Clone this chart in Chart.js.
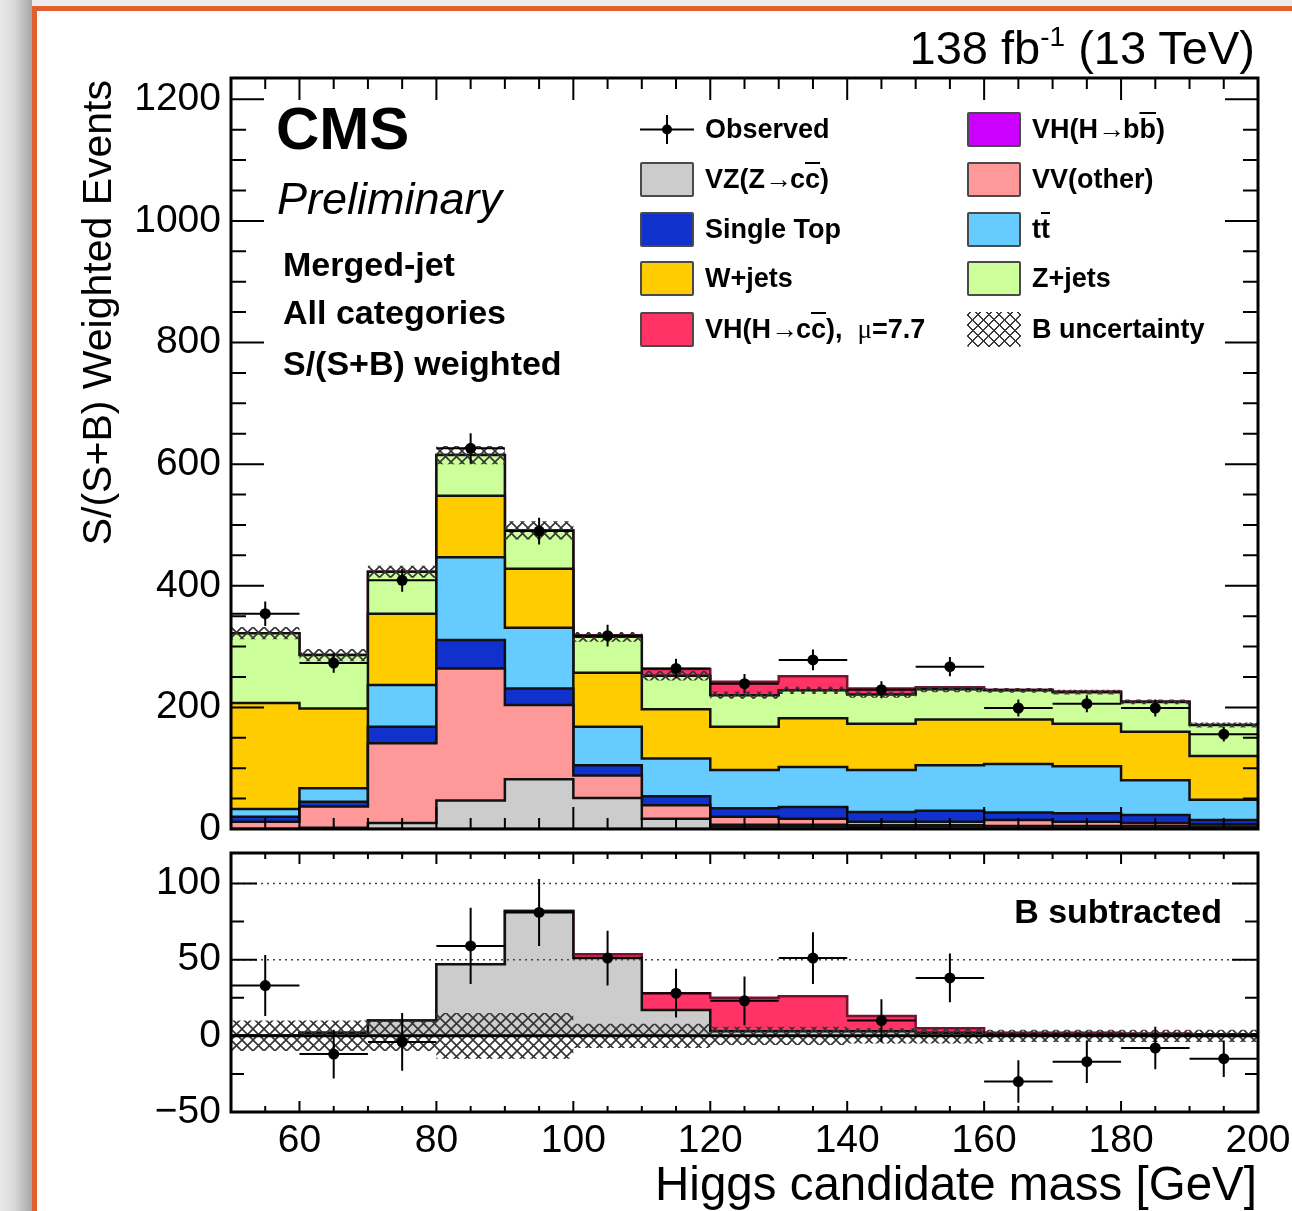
<!DOCTYPE html>
<html lang="en">
<head>
<meta charset="UTF-8">
<title>Higgs candidate mass - merged-jet, S/(S+B) weighted</title>
<script src="https://cdn.jsdelivr.net/npm/chart.js@4.4.1/dist/chart.umd.min.js"></script>
<style>
    html, body { margin: 0; padding: 0; }
    body {
        position: relative;
        width: 1292px;
        height: 1211px;
        overflow: hidden;
        background: linear-gradient(to right, #e9e9e9 0, #dadada 14px, #a6a6a6 32px, #ececec 32px);
        font-family: "Liberation Sans", Arial, Helvetica, sans-serif;
        color: #000;
    }
    #frame {
        position: absolute;
        left: 32px;
        top: 6px;
        width: 1400px;
        height: 1400px;
        background: #fff;
        border-left: 5px solid #e0602f;
        border-top: 5px solid #e0602f;
    }
    canvas { position: absolute; left: 0; }
    #upper { top: 0; }
    #lower { top: 820px; }
    .txt { position: absolute; white-space: nowrap; line-height: 1; }
    .bold { font-weight: bold; }
    .ov { text-decoration: overline; }
    .sup { position: relative; top: -18px; font-size: 28px; }
    .mu { font-family: "Liberation Serif", "DejaVu Serif", serif; font-weight: normal; }

    .leg-row {
        position: absolute;
        height: 35px;
        display: flex;
        align-items: center;
        font-weight: bold;
        font-size: 27px;
        white-space: nowrap;
    }
    .leg-box {
        width: 54px;
        height: 35px;
        box-sizing: border-box;
        border: 2.5px solid #4a4a4a;
        border-radius: 2px;
        margin-right: 11px;
        flex: none;
    }
    .leg-hatch {
        border: none;
        background-color: #fff;
        background-image:
            repeating-linear-gradient(45deg, #3a3a3a 0 1.5px, transparent 1.5px 7.5px),
            repeating-linear-gradient(-45deg, #3a3a3a 0 1.5px, transparent 1.5px 7.5px);
    }
    .leg-obs { width: 54px; height: 35px; margin-right: 11px; flex: none; }
    .arr { letter-spacing: -2px; }
</style>
</head>
<body>
<div id="frame"></div>

<canvas id="upper" width="1292" height="860"></canvas>
<canvas id="lower" width="1292" height="391"></canvas>

<div class="txt" style="right: 37px; top: 24px; font-size: 47px;">138 fb<span class="sup">-1</span> (13 TeV)</div>
<div class="txt bold" style="left: 276px; top: 99px; font-size: 60px;">CMS</div>
<div class="txt" style="left: 277px; top: 176px; font-size: 45px; font-style: italic;">Preliminary</div>
<div class="txt bold" style="left: 283px; top: 247px; font-size: 34px;">Merged-jet</div>
<div class="txt bold" style="left: 283px; top: 295px; font-size: 34px;">All categories</div>
<div class="txt bold" style="left: 283px; top: 346px; font-size: 34px;">S/(S+B) weighted</div>
<div class="txt bold" style="right: 70px; top: 894px; font-size: 34px;">B subtracted</div>

<div class="txt" style="left: 77px; top: 550px; width: 470px; font-size: 41px; text-align: right; transform-origin: 0 0; transform: rotate(-90deg);">S/(S+B) Weighted Events</div>
<div class="txt" style="right: 35px; top: 1160px; font-size: 47.5px;">Higgs candidate mass [GeV]</div>

<div id="legend"></div>

<script>
    // bin edges of the mass histogram [GeV]
    var binEdges = [50, 60, 70, 80, 90, 100, 110, 120, 130, 140, 150, 160, 170, 180, 190, 200];

    // S/(S+B) weighted yields per bin, stacked bottom to top
    var vhbb      = [0, 0, 0, 0, 0, 0, 0, 4, 4, 3, 4, 4, 4, 4, 3];
    var vzcc      = [0, 2, 10, 47, 82, 51, 17, 3, 3, 3, 2, 1, 1, 1, 1];
    var vvOther   = [12, 35, 131, 217, 122, 37, 22, 13, 10, 6, 6, 10, 7, 5, 4];
    var singleTop = [8, 8, 27, 47, 27, 17, 15, 14, 19, 16, 18, 12, 14, 13, 7];
    var ttbar     = [13, 22, 69, 136, 100, 63, 62, 63, 66, 69, 75, 80, 77, 57, 33];
    var wJets     = [174, 131, 117, 101, 97, 89, 81, 71, 80, 76, 75, 73, 70, 80, 72];
    var zJets     = [115, 88, 69, 67, 63, 59, 55, 52, 46, 48, 50, 48, 52, 49, 51];
    var vhcc      = [0, 0, 0, 0, 0, 2.5, 11, 22, 23, 10, 3, 1, 1, 0.5, 0];

    // background uncertainty (half width of the hatched band)
    var bUnc = [10, 10, 10, 15, 15, 8, 8, 6, 6, 5, 5, 4, 4, 4, 4];

    // data
    var observed     = [354, 273, 409, 626, 490, 318, 264, 239, 278, 229, 267, 199, 206, 199, 156];
    var observedErr  = [20, 16, 19, 25, 22, 18, 16, 16, 17, 14, 16, 14, 14, 14, 12];
    var bSubObserved = [33, -12, -4, 59, 81, 51, 28, 23, 51, 10, 38, -30, -17, -8, -15];

    // axis labels
    var yTicksUpper = [0, 200, 400, 600, 800, 1000, 1200];
    var yTicksLower = [-50, 0, 50, 100];
    var xTicks      = [60, 80, 100, 120, 140, 160, 180, 200];
    var refLevels   = [50, 100];

    var colours = {
        vhbb: '#cc00ff', vzcc: '#cccccc', vvOther: '#ff9999', singleTop: '#1131cc',
        ttbar: '#66ccff', wJets: '#ffcc00', zJets: '#ccff99', vhcc: '#ff3366'
    };

    var stackDefs = [
        { values: vhbb, colour: colours.vhbb, edge: '#111' },
        { values: vzcc, colour: colours.vzcc, edge: '#111' },
        { values: vvOther, colour: colours.vvOther, edge: '#111' },
        { values: singleTop, colour: colours.singleTop, edge: '#111' },
        { values: ttbar, colour: colours.ttbar, edge: '#111' },
        { values: wJets, colour: colours.wJets, edge: '#111' },
        { values: zJets, colour: colours.zJets, edge: '#111' },
        { values: vhcc, colour: colours.vhcc, edge: '#7a1030' }
    ];

    Chart.defaults.font.family = '"Liberation Sans", Arial, Helvetica, sans-serif';
    Chart.defaults.color = '#000';

    // cross hatch used for the B uncertainty band
    function makeHatch() {
        var c = document.createElement('canvas');
        c.width = 11;
        c.height = 11;
        var g = c.getContext('2d');
        g.strokeStyle = '#333';
        g.lineWidth = 1.6;
        g.beginPath();
        g.moveTo(0, 0); g.lineTo(11, 11);
        g.moveTo(11, 0); g.lineTo(0, 11);
        g.stroke();
        return g.createPattern(c, 'repeat');
    }
    var hatch = makeHatch();

    // histogram outline as step-before points on the bin edges
    function stepPoints(vals) {
        var pts = vals.map(function(v, i) { return { x: binEdges[i], y: v }; });
        pts.push({ x: binEdges[vals.length], y: vals[vals.length - 1] });
        return pts;
    }

    // horizontal (bin width) and vertical error bars, null breaks the line between bars
    function errorBarPoints(vals, errs) {
        var pts = [];
        vals.forEach(function(v, i) {
            var lo = binEdges[i], hi = binEdges[i + 1], mid = (lo + hi) / 2;
            pts.push({ x: lo, y: v }, { x: hi, y: v }, { x: mid, y: null });
            pts.push({ x: mid, y: v - errs[i] }, { x: mid, y: v + errs[i] }, { x: mid, y: null });
        });
        return pts;
    }

    function markerPoints(vals) {
        return vals.map(function(v, i) { return { x: (binEdges[i] + binEdges[i + 1]) / 2, y: v }; });
    }

    function addArrays(a, b) {
        return a.map(function(v, i) { return v + b[i]; });
    }

    function plainLabel(v) {
        return v < 0 ? '\u2212' + Math.abs(v) : String(v);
    }

    // keep the plot frame where the layout padding puts it
    function noScalePadding(s) {
        s.paddingLeft = 0; s.paddingRight = 0; s.paddingTop = 0; s.paddingBottom = 0;
    }

    // ROOT style frame: ticks inside on all four sides
    function isMultiple(v, m) {
        var r = Math.abs(v % m);
        return r < 1e-6 || Math.abs(r - m) < 1e-6;
    }

    var rootFrame = {
        id: 'rootFrame',
        afterDatasetsDraw: function(chart, args, o) {
            var ctx = chart.ctx, a = chart.chartArea;
            var x = chart.scales.x, y = chart.scales.y;
            ctx.save();
            ctx.strokeStyle = '#000';
            ctx.lineWidth = 2;
            ctx.beginPath();
            for (var v = x.min; v <= x.max + 1e-6; v += o.xMinor) {
                var px = x.getPixelForValue(v);
                var len = isMultiple(v, o.xMajor) ? o.xMajorLen : o.xMinorLen;
                ctx.moveTo(px, a.bottom); ctx.lineTo(px, a.bottom - len);
                ctx.moveTo(px, a.top); ctx.lineTo(px, a.top + len);
            }
            for (var w = Math.ceil(y.min / o.yMinor) * o.yMinor; w <= y.max + 1e-6; w += o.yMinor) {
                var py = y.getPixelForValue(w);
                var l2 = isMultiple(w, o.yMajor) ? o.yMajorLen : o.yMinorLen;
                ctx.moveTo(a.left, py); ctx.lineTo(a.left + l2, py);
                ctx.moveTo(a.right, py); ctx.lineTo(a.right - l2, py);
            }
            ctx.stroke();
            ctx.lineWidth = 3;
            ctx.strokeRect(a.left, a.top, a.right - a.left, a.bottom - a.top);
            ctx.restore();
        }
    };

    // ---------- upper panel: stacked backgrounds + signal ----------
    var upperSets = [];
    var running = binEdges.slice(1).map(function() { return 0; });
    var bTotal = null;
    stackDefs.forEach(function(s, k) {
        running = addArrays(running, s.values);
        if (s.values === zJets) bTotal = running.slice();
        upperSets.push({
            data: stepPoints(running),
            stepped: true,
            fill: k === 0 ? 'origin' : '-1',
            backgroundColor: s.colour,
            borderColor: s.edge,
            borderWidth: 2.5,
            pointRadius: 0,
            order: 3
        });
    });

    upperSets.push({
        data: stepPoints(bTotal.map(function(v, i) { return v - bUnc[i]; })),
        stepped: true, fill: false, borderColor: 'rgba(0,0,0,0)', pointRadius: 0, order: 2
    });
    upperSets.push({
        data: stepPoints(bTotal.map(function(v, i) { return v + bUnc[i]; })),
        stepped: true, fill: '-1', backgroundColor: hatch, borderColor: 'rgba(0,0,0,0)', pointRadius: 0, order: 2
    });
    upperSets.push({
        data: errorBarPoints(observed, observedErr),
        borderColor: '#000', borderWidth: 2, pointRadius: 0, fill: false, spanGaps: false, order: 0
    });
    upperSets.push({
        data: markerPoints(observed),
        showLine: false, pointRadius: 5.5, pointBackgroundColor: '#000', pointBorderWidth: 0, order: 0
    });

    new Chart(document.getElementById('upper'), {
        type: 'line',
        data: { datasets: upperSets },
        options: {
            responsive: false,
            animation: false,
            events: [],
            layout: { padding: { left: 0, top: 78, right: 34, bottom: 31 } },
            plugins: {
                legend: { display: false },
                tooltip: { enabled: false },
                rootFrame: { xMajor: 20, xMinor: 5, xMajorLen: 22, xMinorLen: 11,
                             yMajor: 200, yMinor: 50, yMajorLen: 33, yMinorLen: 15 }
            },
            scales: {
                x: { type: 'linear', min: 50, max: 200, display: false },
                y: {
                    type: 'linear', min: 0, max: 1235,
                    afterFit: function(s) { s.width = 231; noScalePadding(s); },
                    afterBuildTicks: function(s) { s.ticks = yTicksUpper.map(function(v) { return { value: v }; }); },
                    grid: { display: false, drawTicks: false },
                    border: { display: false },
                    ticks: { font: { size: 39 }, color: '#000', padding: 10, callback: plainLabel }
                }
            }
        },
        plugins: [rootFrame]
    });

    // ---------- lower panel: background subtracted ----------
    var signalTop = addArrays(vzcc, vhcc);
    var lowerSets = [
        { data: stepPoints(vzcc), stepped: true, fill: 'origin', backgroundColor: colours.vzcc,
          borderColor: '#111', borderWidth: 2.5, pointRadius: 0, order: 3 },
        { data: stepPoints(signalTop), stepped: true, fill: '-1', backgroundColor: colours.vhcc,
          borderColor: '#7a1030', borderWidth: 2.5, pointRadius: 0, order: 3 },
        { data: stepPoints(bUnc.map(function(u) { return -u; })), stepped: true, fill: false,
          borderColor: 'rgba(0,0,0,0)', pointRadius: 0, order: 2 },
        { data: stepPoints(bUnc), stepped: true, fill: '-1', backgroundColor: hatch,
          borderColor: 'rgba(0,0,0,0)', pointRadius: 0, order: 2 },
        { data: [{ x: 50, y: 0 }, { x: 200, y: 0 }], borderColor: '#000', borderWidth: 3,
          pointRadius: 0, fill: false, order: 1 }
    ];
    refLevels.forEach(function(lv) {
        lowerSets.push({ data: [{ x: 50, y: lv }, { x: 200, y: lv }], borderColor: '#444', borderWidth: 1.5,
                         borderDash: [2, 4], pointRadius: 0, fill: false, order: 1 });
    });
    lowerSets.push({
        data: errorBarPoints(bSubObserved, observedErr),
        borderColor: '#000', borderWidth: 2, pointRadius: 0, fill: false, spanGaps: false, order: 0
    });
    lowerSets.push({
        data: markerPoints(bSubObserved),
        showLine: false, pointRadius: 5.5, pointBackgroundColor: '#000', pointBorderWidth: 0, order: 0
    });

    new Chart(document.getElementById('lower'), {
        type: 'line',
        data: { datasets: lowerSets },
        options: {
            responsive: false,
            animation: false,
            events: [],
            layout: { padding: { left: 0, top: 33, right: 34, bottom: 0 } },
            plugins: {
                legend: { display: false },
                tooltip: { enabled: false },
                rootFrame: { xMajor: 20, xMinor: 5, xMajorLen: 11, xMinorLen: 6,
                             yMajor: 50, yMinor: 25, yMajorLen: 26, yMinorLen: 13 }
            },
            scales: {
                x: {
                    type: 'linear', min: 50, max: 200,
                    afterFit: function(s) { s.height = 99; noScalePadding(s); },
                    afterBuildTicks: function(s) { s.ticks = xTicks.map(function(v) { return { value: v }; }); },
                    grid: { display: false, drawTicks: false },
                    border: { display: false },
                    ticks: { font: { size: 39 }, color: '#000', padding: 6, maxRotation: 0, autoSkip: false,
                             callback: plainLabel }
                },
                y: {
                    type: 'linear', min: -50, max: 120,
                    afterFit: function(s) { s.width = 231; noScalePadding(s); },
                    afterBuildTicks: function(s) { s.ticks = yTicksLower.map(function(v) { return { value: v }; }); },
                    grid: { display: false, drawTicks: false },
                    border: { display: false },
                    ticks: { font: { size: 39 }, color: '#000', padding: 10, callback: plainLabel }
                }
            }
        },
        plugins: [rootFrame]
    });

    // ---------- legend ----------
    var rowCentres = [129, 179, 229, 278, 329];
    var arrow = '<span class="arr">\u2192</span>';
    var legendCols = [
        { boxLeft: 640, items: [
            { kind: 'obs', html: 'Observed' },
            { fill: colours.vzcc, html: 'VZ(Z' + arrow + 'c<span class="ov">c</span>)' },
            { fill: colours.singleTop, html: 'Single Top' },
            { fill: colours.wJets, html: 'W+jets' },
            { fill: colours.vhcc, html: 'VH(H' + arrow + 'c<span class="ov">c</span>), &nbsp;<span class="mu">\u03bc</span>=7.7' }
        ] },
        { boxLeft: 967, items: [
            { fill: colours.vhbb, html: 'VH(H' + arrow + 'b<span class="ov">b</span>)' },
            { fill: colours.vvOther, html: 'VV(other)' },
            { fill: colours.ttbar, html: 't<span class="ov">t</span>' },
            { fill: colours.zJets, html: 'Z+jets' },
            { kind: 'hatch', html: 'B uncertainty' }
        ] }
    ];

    var legendDiv = document.getElementById('legend');
    legendCols.forEach(function(col) {
        col.items.forEach(function(item, r) {
            var row = document.createElement('div');
            row.className = 'leg-row';
            row.style.left = col.boxLeft + 'px';
            row.style.top = (rowCentres[r] - 17.5) + 'px';
            var sym;
            if (item.kind === 'obs') {
                sym = '<svg class="leg-obs" viewBox="0 0 54 35">' +
                      '<line x1="0" y1="17.5" x2="54" y2="17.5" stroke="#000" stroke-width="2"/>' +
                      '<line x1="27" y1="3" x2="27" y2="32" stroke="#000" stroke-width="2"/>' +
                      '<circle cx="27" cy="17.5" r="5" fill="#000"/></svg>';
            } else if (item.kind === 'hatch') {
                sym = '<div class="leg-box leg-hatch"></div>';
            } else {
                sym = '<div class="leg-box" style="background:' + item.fill + '"></div>';
            }
            row.innerHTML = sym + '<span>' + item.html + '</span>';
            legendDiv.appendChild(row);
        });
    });
</script>
</body>
</html>
